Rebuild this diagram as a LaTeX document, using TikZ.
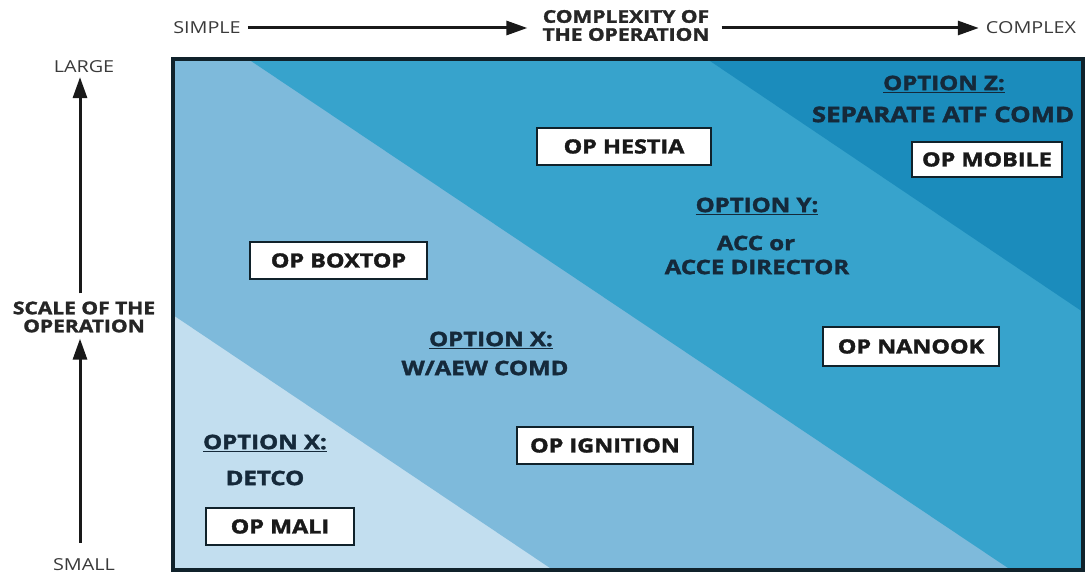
\documentclass[tikz,border=0pt]{standalone}
\usepackage{fontspec}
\usepackage{graphicx}
\setmainfont{Open Sans}[BoldFeatures={FakeBold=1.6}]
\usetikzlibrary{arrows.meta}
\definecolor{cLightest}{HTML}{C2DEEF}
\definecolor{cLight}{HTML}{7EBADB}
\definecolor{cMid}{HTML}{37A3CC}
\definecolor{cDark}{HTML}{1B8CBC}
\definecolor{cFrame}{HTML}{10222B}
\definecolor{cLabel}{HTML}{15293A}
\definecolor{cHead}{HTML}{3A3A3A}
\newcommand\sx[1]{\scalebox{1.2}[1]{#1}}
\tikzset{
  opbox/.style={draw=cFrame, line width=2pt, fill=white, inner sep=0pt,
    font=\fontsize{19.5}{22}\selectfont\bfseries, text=black!90,
    text height=13.9pt, text depth=0pt},
  optlabel/.style={inner sep=0pt, font=\fontsize{20}{24}\selectfont\bfseries,
    text=cLabel, text height=14.3pt, text depth=0pt},
  headbold/.style={inner sep=0pt, font=\fontsize{17.5}{18}\selectfont\bfseries,
    text=black!85, align=center},
  headreg/.style={inner sep=0pt, font=\fontsize{16.5}{18}\selectfont,
    text=cHead, text height=11.8pt, text depth=0pt},
  axisarrow/.style={line width=3pt, draw=black!90,
    -{Triangle[length=21pt,width=14pt]}},
}
\begin{document}
\begin{tikzpicture}[x=1pt,y=-1pt]
\useasboundingbox (0,0) rectangle (1085,575);
% bands
\fill[cLightest] (173,59) rectangle (1083,570);
\fill[cLight] (173,59) -- (1083,59) -- (1083,570) -- (553,570) -- (173,315) -- cycle;
\fill[cMid] (248,59) -- (1083,59) -- (1083,570) -- (1011,570) -- cycle;
\fill[cDark] (707,59) -- (1083,59) -- (1083,312) -- cycle;
\draw[cFrame, line width=4.5pt] (173,59) rectangle (1083,570);

% header
\node[headreg] (simple) at (207,28) {\sx{SIMPLE}};
\node[headbold] (cx) at (626,25.5) {\sx{COMPLEXITY OF}\\\sx{THE OPERATION}};
\node[headreg] (complex) at (1031,28) {\sx{COMPLEX}};
\draw[axisarrow, shorten <=7pt, shorten >=15pt] (simple.east) -- (simple.east -| cx.west);
\draw[axisarrow, shorten <=12pt, shorten >=7pt] (simple.east -| cx.east) -- (complex.west);

% left axis
\node[headreg] (large) at (84,67) {\sx{LARGE}};
\node[headbold] (scale) at (84,317) {\sx{SCALE OF THE}\\\sx{OPERATION}};
\node[headreg] (small) at (84,565) {\sx{SMALL}};
\draw[axisarrow, shorten <=8pt, shorten >=4pt] (scale.north -| 80,0) -- (large.south -| 80,0);
\draw[axisarrow, shorten <=16pt, shorten >=6pt] (small.north -| 80,0) -- (scale.south -| 80,0);

% option labels
\node[optlabel] (optz) at (944,83) {\sx{\underline{OPTION Z:}}};
\node[optlabel, font=\fontsize{21.5}{24}\selectfont\bfseries] (optzt) at (943,115) {\sx{SEPARATE ATF COMD}};
\node[optlabel] (opty) at (757,205) {\sx{\underline{OPTION Y:}}};
\node[optlabel] (optyt1) at (756,243) {\sx{ACC or}};
\node[optlabel] (optyt2) at (757,267) {\sx{ACCE DIRECTOR}};
\node[optlabel] (optx) at (491,339) {\sx{\underline{OPTION X:}}};
\node[optlabel] (optxt) at (485,368) {\sx{W/AEW COMD}};
\node[optlabel] (optd) at (265,442) {\sx{\underline{OPTION X:}}};
\node[optlabel] (optdt) at (265,478) {\sx{DETCO}};

% operation boxes
\node[opbox, minimum width=174pt, minimum height=37pt] (hestia) at (624,146.5) {\sx{OP HESTIA}};
\node[opbox, minimum width=150pt, minimum height=35pt] (mobile) at (987,159.5) {\sx{OP MOBILE}};
\node[opbox, minimum width=177pt, minimum height=37pt] (boxtop) at (338.5,260.5) {\sx{OP BOXTOP}};
\node[opbox, minimum width=176pt, minimum height=39pt] (nanook) at (911,346.5) {\sx{OP NANOOK}};
\node[opbox, minimum width=176pt, minimum height=37pt] (ignition) at (605,445.5) {\sx{OP IGNITION}};
\node[opbox, minimum width=148pt, minimum height=37pt] (mali) at (280,526.5) {\sx{OP MALI}};
\end{tikzpicture}
\end{document}
